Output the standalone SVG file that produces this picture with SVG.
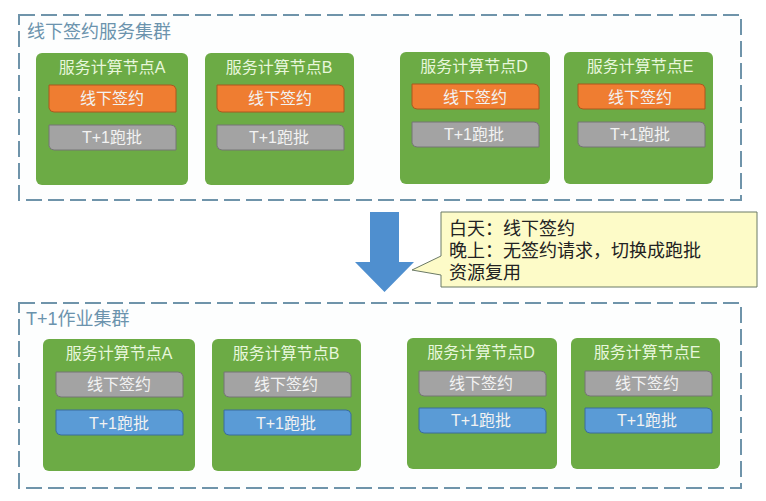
<svg xmlns="http://www.w3.org/2000/svg" width="766" height="501" viewBox="0 0 766 501">
<style>
text{font-family:"Liberation Sans","Noto Sans CJK SC",sans-serif}
.cluster{fill:#fdfefe;stroke:#6f94aa;stroke-width:2;stroke-dasharray:16 6}
.ctitle{font-size:18px;fill:#6b93ad}
.node{fill:#6cab45}
.ntitle{font-size:16px;fill:#e8f7dc;text-anchor:middle}
.tag{stroke-width:1}
.orange{fill:#ef7d31;stroke:#a8591f}
.gray{fill:#a3a3a3;stroke:#757575}
.blue{fill:#5a9bd6;stroke:#3a6d9c}
.tagt{font-size:16px;fill:#f2f2f2;text-anchor:middle}
.note{font-size:18px;fill:#222}
</style>
<rect width="766" height="501" fill="#fff"/>
<defs>
<path id="t27" d="M0 0H122Q126 0 127 4V27H5Q1 27 0 23Z"/>
<path id="t25" d="M0 0H122Q126 0 127 4V25H5Q1 25 0 21Z"/>
</defs>
<g id="cluster-top">
<rect class="cluster" x="19" y="15" width="722" height="185"/>
<text class="ctitle" x="27" y="38">线下签约服务集群</text>
</g>
<g id="top-a">
<rect class="node" x="36" y="53" width="152" height="132" rx="6"/>
<text class="ntitle" x="112" y="73">服务计算节点A</text>
<use href="#t27" x="49" y="85" class="tag orange"/><text class="tagt" x="112" y="104">线下签约</text>
<use href="#t25" x="49" y="125" class="tag gray"/><text class="tagt" x="112" y="143">T+1跑批</text>
</g>
<g id="top-b">
<rect class="node" x="205" y="53" width="149" height="132" rx="6"/>
<text class="ntitle" x="279" y="73">服务计算节点B</text>
<use href="#t27" x="217" y="85" class="tag orange"/><text class="tagt" x="280" y="104">线下签约</text>
<use href="#t25" x="217" y="125" class="tag gray"/><text class="tagt" x="279" y="143">T+1跑批</text>
</g>
<g id="top-d">
<rect class="node" x="400" y="52" width="150" height="132" rx="6"/>
<text class="ntitle" x="474" y="72">服务计算节点D</text>
<use href="#t25" x="412" y="84" class="tag orange"/><text class="tagt" x="475" y="103">线下签约</text>
<use href="#t25" x="412" y="122" class="tag gray"/><text class="tagt" x="474" y="140">T+1跑批</text>
</g>
<g id="top-e">
<rect class="node" x="564" y="52" width="149" height="132" rx="6"/>
<text class="ntitle" x="640" y="72">服务计算节点E</text>
<use href="#t25" x="578" y="84" class="tag orange"/><text class="tagt" x="640" y="103">线下签约</text>
<use href="#t25" x="578" y="122" class="tag gray"/><text class="tagt" x="640" y="140">T+1跑批</text>
</g>
<g id="connectors">
<path d="M370 212H399V262H414L384.500 292L355 262H370Z" fill="#4f8fcf"/>
</g>
<g id="note">
<path d="M441 212H757V287H441V275L412 270L441 256Z" fill="#fdfbc8" stroke="#6b7a66" stroke-width="1"/>
<text class="note" x="449" y="235">白天：线下签约</text>
<text class="note" x="449" y="257">晚上：无签约请求，切换成跑批</text>
<text class="note" x="449" y="279">资源复用</text>
</g>
<g id="cluster-bottom">
<rect class="cluster" x="19" y="303" width="722" height="185"/>
<text class="ctitle" x="26" y="325">T+1作业集群</text>
</g>
<g id="bot-a">
<rect class="node" x="43" y="339" width="152" height="132" rx="6"/>
<text class="ntitle" x="119" y="359">服务计算节点A</text>
<use href="#t25" x="56" y="372" class="tag gray"/><text class="tagt" x="119" y="390">线下签约</text>
<use href="#t25" x="56" y="410" class="tag blue"/><text class="tagt" x="119" y="429">T+1跑批</text>
</g>
<g id="bot-b">
<rect class="node" x="212" y="339" width="149" height="132" rx="6"/>
<text class="ntitle" x="286" y="359">服务计算节点B</text>
<use href="#t25" x="224" y="372" class="tag gray"/><text class="tagt" x="286" y="390">线下签约</text>
<use href="#t25" x="224" y="410" class="tag blue"/><text class="tagt" x="286" y="429">T+1跑批</text>
</g>
<g id="bot-d">
<rect class="node" x="407" y="338" width="150" height="131" rx="6"/>
<text class="ntitle" x="481" y="358">服务计算节点D</text>
<use href="#t25" x="419" y="371" class="tag gray"/><text class="tagt" x="481" y="389">线下签约</text>
<use href="#t25" x="419" y="408" class="tag blue"/><text class="tagt" x="481" y="426">T+1跑批</text>
</g>
<g id="bot-e">
<rect class="node" x="571" y="338" width="149" height="131" rx="6"/>
<text class="ntitle" x="647" y="358">服务计算节点E</text>
<use href="#t25" x="585" y="371" class="tag gray"/><text class="tagt" x="647" y="389">线下签约</text>
<use href="#t25" x="585" y="408" class="tag blue"/><text class="tagt" x="647" y="426">T+1跑批</text>
</g>
</svg>
